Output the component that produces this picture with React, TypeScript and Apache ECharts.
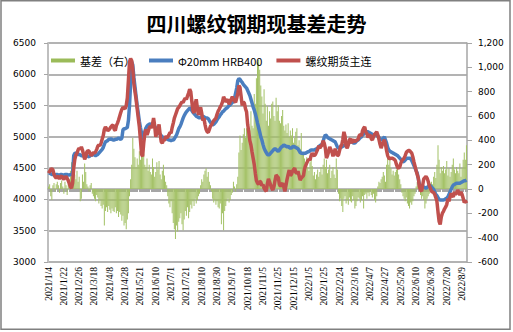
import React, { useEffect, useRef } from "react";
import * as echarts from "echarts";

const TITLE = "四川螺纹钢期现基差走势";
const SERIES_NAMES = ["基差（右）", "Φ20mm HRB400", "螺纹期货主连"];

// x-axis tick labels (every 14th trading day)
const tickDates = [
  "2021/1/4", "2021/1/22", "2021/2/26", "2021/3/18", "2021/4/8", "2021/4/28", "2021/5/21",
  "2021/6/10", "2021/7/1", "2021/7/21", "2021/8/10", "2021/8/30", "2021/9/17", "2021/10/18",
  "2021/11/5", "2021/11/25", "2021/12/15", "2022/1/5", "2022/1/25", "2022/2/24", "2022/3/16",
  "2022/4/7", "2022/4/27", "2022/5/20", "2022/6/10", "2022/6/30", "2022/7/20", "2022/8/9",
];

// Φ20mm HRB400 spot price (left axis)
const spot = [
  4420, 4420, 4410, 4400, 4400, 4390, 4390, 4400, 4400, 4390,
  4390, 4400, 4400, 4390, 4390, 4400, 4400, 4400, 4390, 4390,
  4400, 4400, 4400, 4700, 4740, 4740, 4730, 4720, 4720, 4710,
  4700, 4700, 4690, 4690, 4700, 4700, 4690, 4680, 4700, 4710,
  4710, 4720, 4710, 4700, 4710, 4720, 4740, 4760, 4780, 4800,
  4830, 4880, 4920, 4930, 4940, 4960, 4960, 4970, 4960, 4950,
  4950, 4960, 4960, 4970, 4980, 4970, 4960, 4980, 5110, 5130,
  5130, 5140, 5150, 5260, 5500, 5850, 6200, 6150, 5950, 5800,
  5650, 5500, 5380, 5250, 5150, 5060, 4990, 4960, 5080, 5140,
  5170, 5190, 5200, 5210, 5190, 5180, 5200, 5170, 5140, 5130,
  5100, 5060, 5040, 5020, 5000, 4990, 4980, 4980, 4970, 4960,
  4950, 4950, 4940, 4950, 4950, 4970, 5000, 5030, 5080, 5130,
  5160, 5200, 5250, 5300, 5340, 5370, 5400, 5420, 5440, 5460,
  5450, 5420, 5390, 5370, 5350, 5330, 5320, 5310, 5300, 5310,
  5320, 5330, 5320, 5310, 5300, 5300, 5290, 5260, 5230, 5210,
  5190, 5200, 5220, 5240, 5270, 5300, 5320, 5350, 5370, 5400,
  5410, 5430, 5450, 5460, 5480, 5500, 5510, 5530, 5550, 5560,
  5620, 5700, 5780, 5900, 5930, 5920, 5890, 5870, 5840, 5820,
  5800, 5780, 5740, 5700, 5660, 5600, 5540, 5480, 5430, 5370,
  5300, 5220, 5150, 5080, 5000, 4950, 4880, 4820, 4780, 4750,
  4720, 4710, 4720, 4740, 4760, 4780, 4800, 4810, 4800, 4780,
  4770, 4790, 4820, 4840, 4850, 4870, 4860, 4850, 4840, 4850,
  4830, 4820, 4820, 4840, 4850, 4840, 4830, 4820, 4810, 4780,
  4750, 4740, 4740, 4730, 4740, 4740, 4750, 4760, 4760, 4780,
  4790, 4790, 4790, 4790, 4800, 4810, 4820, 4840, 4860, 4870,
  4880, 4930, 4990, 5030, 5020, 4990, 4980, 4970, 4960, 4950,
  4940, 4930, 4920, 4880, 4840, 4820, 4820, 4830, 4840, 4850,
  4860, 4870, 4880, 4890, 4900, 4910, 4920, 4920, 4910, 4900,
  4900, 4920, 4940, 4950, 4970, 4990, 5000, 5030, 5040, 5060,
  5070, 5080, 5080, 5070, 5060, 5050, 5040, 5030, 5030, 5030,
  5030, 5010, 4990, 4970, 4950, 4960, 4980, 5000, 4950, 4900,
  4830, 4790, 4770, 4760, 4750, 4740, 4730, 4720, 4710, 4700,
  4680, 4660, 4640, 4620, 4600, 4610, 4630, 4650, 4660, 4660,
  4660, 4650, 4620, 4580, 4540, 4500, 4460, 4420, 4330, 4240,
  4220, 4210, 4200, 4200, 4190, 4180, 4190, 4210, 4230, 4220,
  4200, 4180, 4160, 4120, 4080, 4060, 4030, 4000, 3990, 3990,
  3990, 3990, 4000, 4010, 4020, 4040, 4080, 4120, 4160, 4200,
  4230, 4240, 4250, 4260, 4260, 4260, 4260, 4270, 4280, 4290,
  4300, 4300, 4310,
];

// rebar futures main contract (left axis)
const futures = [
  4420, 4450, 4480, 4490, 4470, 4400, 4360, 4340, 4370, 4360,
  4330, 4360, 4380, 4340, 4320, 4350, 4370, 4340, 4300, 4250,
  4200, 4180, 4260, 4500, 4640, 4710, 4740, 4790, 4820, 4800,
  4840, 4790, 4720, 4640, 4680, 4760, 4780, 4770, 4730, 4700,
  4720, 4750, 4740, 4760, 4800, 4850, 4870, 4860, 4900, 4960,
  5020, 5120, 5160, 5130, 5100, 5110, 5130, 5160, 5180, 5190,
  5120, 5100, 5180, 5220, 5270, 5330, 5390, 5440, 5470, 5460,
  5450, 5500, 5620, 5900, 6200, 6250, 6220, 6080, 5850, 5720,
  5600, 5450, 5300, 5160, 4950, 4720, 4690, 4900, 5050, 5120,
  5030, 5080, 5140, 5170, 5140, 5200, 5300, 5180, 5000, 5060,
  5100, 5200, 5040, 4920, 4900, 4950, 4940, 5010, 4990, 5000,
  5030, 5070, 5060, 5150, 5220, 5300, 5350, 5400, 5450, 5470,
  5500, 5530, 5560, 5550, 5590, 5620, 5600, 5650, 5700, 5760,
  5720, 5560, 5420, 5380, 5520, 5600, 5460, 5350, 5420, 5470,
  5380, 5260, 5300, 5200, 5120, 5080, 5070, 5120, 5170, 5190,
  5230, 5260, 5280, 5300, 5360, 5410, 5440, 5480, 5510, 5560,
  5640, 5600, 5560, 5580, 5600, 5520, 5560, 5600, 5640, 5600,
  5570, 5550, 5620, 5700, 5820, 5790, 5650, 5500, 5560, 5540,
  5450, 5400, 5200, 5080, 4940, 4870, 4760, 4660, 4560, 4420,
  4300, 4260, 4240, 4290, 4280, 4220, 4240, 4180, 4150, 4130,
  4250, 4330, 4280, 4230, 4180, 4150, 4200, 4300, 4390, 4370,
  4350, 4240, 4210, 4240, 4260, 4200, 4130, 4220, 4320, 4400,
  4470, 4380, 4400, 4450, 4480, 4500, 4430, 4420, 4450, 4380,
  4310, 4340, 4360, 4380, 4490, 4540, 4580, 4620, 4640, 4630,
  4700, 4740, 4710, 4700, 4720, 4760, 4800, 4860, 4820, 4850,
  4870, 4940, 4900, 4820, 4660, 4700, 4760, 4840, 4800, 4760,
  4690, 4740, 4810, 4740, 4700, 4710, 4780, 4850, 4870, 4960,
  5080, 5010, 4850, 4820, 4870, 4950, 4970, 4900, 4940, 4950,
  4920, 4940, 4950, 4960, 5020, 5040, 5010, 5100, 5140, 5160,
  5080, 5050, 4990, 5020, 5030, 4970, 4950, 5000, 5040, 5060,
  5080, 5030, 4960, 4880, 4820, 4870, 4920, 4950, 4880, 4780,
  4700, 4660, 4650, 4660, 4660, 4650, 4640, 4620, 4560, 4510,
  4500, 4520, 4580, 4620, 4640, 4660, 4700, 4750, 4770, 4780,
  4780, 4760, 4740, 4680, 4600, 4530, 4460, 4400, 4340, 4200,
  4150, 4130, 4230, 4330, 4350, 4370, 4340, 4290, 4220, 4180,
  4130, 4120, 4110, 4080, 4030, 3970, 3800, 3650, 3600, 3720,
  3780, 3810, 3850, 3880, 3920, 4010, 3970, 4040, 4100, 4060,
  4040, 4120, 4080, 4100, 4150, 4110, 4070, 4120, 4080, 4020,
  3950, 3980, 3940,
];

// basis (right axis)
const basis = [
  20, 40, -60, -90, 30, 50, -20, 40, 60, 30,
  -30, 50, 70, 20, -40, 60, 30, -50, 40, 80,
  150, 220, 180, 210, 120, 80, 150, 60, 100, -100,
  -80, 120, 60, 210, 140, 40, 20, -20, 30, 50,
  -40, -60, -80, -100, -50, -70, -120, -90, -140, -160,
  -130, -300, -180, -150, -190, -140, -170, -200, -160, -180,
  -190, -150, -200, -180, -230, -190, -210, -260, -220, -300,
  -280, -330, -250, -200, -60, 80, 200, 420, 330, 260,
  180, 250, 200, 310, 240, 300, 380, 290, 200, 180,
  250, 150, 200, 140, 120, 250, 180, 100, 140, 220,
  160, 230, 120, 80, 150, 200, 110, 60, 30, -60,
  -120, -150, -100, -200, -280, -330, -410, -300, -350, -270,
  -240, -200, -290, -340, -250, -180, -220, -150, -240, -190,
  -130, -160, -100, -140, -80, -120, -90, -60, -40, 30,
  80, 60, 120, 150, 170, 100, 140, 60, 30, -20,
  -80, -110, -90, -130, -100, -150, -160, -120, -290, -200,
  -340, -180, -140, -100, -80, -110, -90, -50, -30, 60,
  20, -20, 40, 100, 300, 440, 320, 380, 450, 500,
  420, 500, 560, 470, 480, 640, 520, 500, 780, 700,
  910, 1040, 1060, 980, 850, 760, 620, 820, 700, 560,
  680, 520, 640, 580, 700, 720, 600, 560, 750, 640,
  690, 560, 540, 600, 650, 520, 480, 530, 460, 540,
  430, 480, 440, 500, 380, 420, 470, 500, 360, 400,
  330, 460, 280, 300, 250, 220, 260, 180, 150, 220,
  260, 190, 110, 140, 80, 120, 160, 100, 140, 180,
  120, 200, 250, 180, 240, 130, 160, 200, 90, 150,
  180, 120, 90, 250, 160, -40, -100, -80, -140, -190,
  -80, -60, -120, -90, -130, -70, -100, -110, -60, -90,
  -160, -140, -100, -70, -80, -110, -90, -60, -160, -50,
  -40, -80, -30, -60, -20, -50, -70, -40, -90, -110,
  -60, 20, 60, 50, 80, 100, 140, 110, 60, 200,
  280, 200, 250, 170, 120, 150, 110, 140, 160, 190,
  120, 80, 40, -30, -60, -80, -100, -70, -120, -140,
  -160, -110, -130, -100, -60, -40, 20, 60, 30, -20,
  -50, -80, -60, -90, -160, -120, -80, -60, -40, 20,
  60, 40, 100, 140, 90, 200, 360, 240, 130, 180,
  150, 190, 130, 160, 230, 110, 170, 100, 140, 200,
  250, 160, 130, 180, 150, 130, 210, 100, 170, 240,
  300, 240, 360,
];

// trading-day categories: each labelled date followed by the next 13 weekdays
function buildCategories(): string[] {
  const DAY = 86400000;
  const parse = (s: string) => {
    const [y, m, d] = s.split("/").map(Number);
    return Date.UTC(y, m - 1, d);
  };
  const fmt = (t: number) => {
    const d = new Date(t);
    return `${d.getUTCFullYear()}/${d.getUTCMonth() + 1}/${d.getUTCDate()}`;
  };
  const out: string[] = [];
  tickDates.forEach((td, k) => {
    out.push(td);
    const count = k < tickDates.length - 1 ? 13 : spot.length - out.length;
    let t = parse(td);
    let n = 0;
    while (n < count) {
      t += DAY;
      const wd = new Date(t).getUTCDay();
      if (wd === 0 || wd === 6) continue;
      out.push(fmt(t));
      n++;
    }
  });
  return out;
}

const categories = buildCategories();

export default function App() {
  const ref = useRef<HTMLDivElement>(null);
  useEffect(() => {
    if (!ref.current) return;
    const chart = echarts.init(ref.current, undefined, { renderer: "svg" });
    const axisFont = "DejaVu Sans";
    chart.setOption({
      animation: false,
      backgroundColor: "#ffffff",
      title: {
        text: TITLE,
        left: "center",
        top: 8,
        textStyle: {
          fontFamily: "Noto Sans CJK SC",
          fontWeight: "bold",
          fontSize: 20,
          color: "#000",
        },
      },
      graphic: [
        {
          type: "rect",
          shape: { x: 1, y: 0.75, width: 509, height: 328.5 },
          style: { fill: "none", stroke: "#808080", lineWidth: 1.5 },
          silent: true,
        },
      ],
      legend: {
        left: 51,
        top: 55,
        padding: 0,
        itemWidth: 24,
        itemHeight: 4,
        itemGap: 14,
        textStyle: { fontFamily: "Noto Sans CJK SC", fontSize: 11, color: "#000" },
        data: [
          { name: SERIES_NAMES[0], icon: "rect", itemStyle: { color: "#9bbb59" } },
          { name: SERIES_NAMES[1], icon: "rect" },
          { name: SERIES_NAMES[2], icon: "rect" },
        ],
      },
      grid: { left: 48, right: 46, top: 43, bottom: 70 },
      xAxis: {
        type: "category",
        data: categories,
        axisLine: { lineStyle: { color: "#a6a6a6", width: 1.5 } },
        axisTick: { show: true, interval: 0, length: 3, lineStyle: { color: "#a6a6a6" } },
        axisLabel: {
          interval: 13,
          rotate: 90,
          margin: 5,
          fontSize: 9.5,
          fontFamily: "Liberation Serif",
          color: "#000",
        },
        splitLine: { show: false },
      },
      yAxis: [
        {
          type: "value",
          min: 3000,
          max: 6500,
          interval: 500,
          axisLine: { show: true, lineStyle: { color: "#bfbfbf", width: 2 } },
          axisTick: { show: true, length: 4, lineStyle: { color: "#a6a6a6" } },
          axisLabel: {
            margin: 12,
            fontSize: 9,
            fontFamily: axisFont,
            color: "#000",
            formatter: (v: number) => String(v),
          },
          splitLine: { show: true, lineStyle: { color: "#9a9a9a", width: 1.5 } },
        },
        {
          type: "value",
          min: -600,
          max: 1200,
          interval: 200,
          axisLine: { show: true, lineStyle: { color: "#a6a6a6", width: 1.5 } },
          axisTick: { show: true, length: 5, lineStyle: { color: "#a6a6a6" } },
          axisLabel: {
            margin: 11,
            fontSize: 9,
            fontFamily: axisFont,
            color: "#000",
            formatter: (v: number) => v.toLocaleString("en-US"),
          },
          splitLine: { show: false },
        },
      ],
      series: [
        {
          name: SERIES_NAMES[0],
          type: "bar",
          yAxisIndex: 1,
          data: basis,
          barWidth: "55%",
          itemStyle: { color: "#a3c165" },
        },
        {
          name: SERIES_NAMES[1],
          type: "line",
          data: spot,
          symbol: "none",
          lineStyle: { color: "#4a7ebf", width: 3.5 },
          itemStyle: { color: "#4a7ebf" },
        },
        {
          name: SERIES_NAMES[2],
          type: "line",
          data: futures,
          symbol: "none",
          lineStyle: { color: "#c0504d", width: 3.5 },
          itemStyle: { color: "#c0504d" },
        },
      ],
    });
    return () => chart.dispose();
  }, []);
  return (
    <div
      ref={ref}
      style={{ position: "fixed", left: 0, top: 0, width: 513, height: 332, background: "#fff" }}
    />
  );
}
